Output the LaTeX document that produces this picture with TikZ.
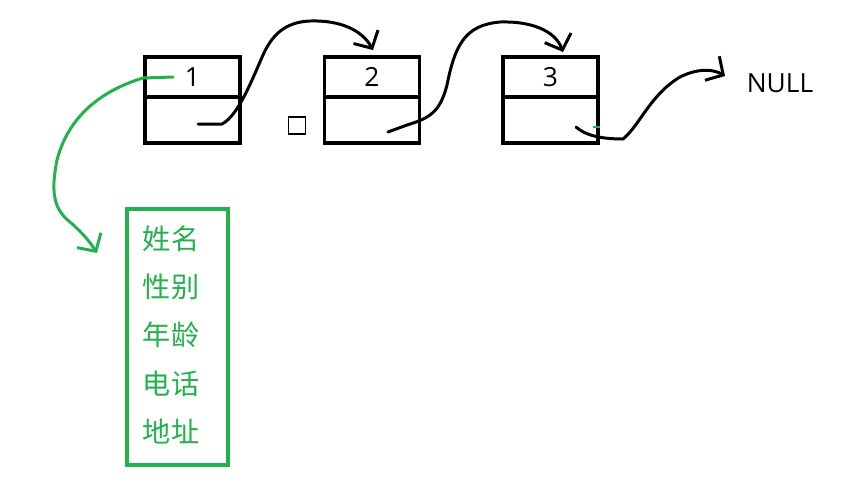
\documentclass[tikz,border=0pt]{standalone}
\usepackage{fontspec}
\setmainfont{Open Sans}
\newfontfamily\cjk{Noto Sans CJK SC}
\usepackage{xcolor}
\usetikzlibrary{arrows.meta}
\definecolor{paintgreen}{RGB}{34,177,76}

\begin{document}
\begin{tikzpicture}[x=0.02cm,y=-0.02cm,
    cell/.style={draw,line width=2.2pt,minimum width=1.9cm,inner sep=0pt,font=\fontsize{15}{18}\selectfont},
    datacell/.style={cell,minimum height=0.8cm},
    ptrcell/.style={cell,minimum height=0.92cm},
    hand/.style={line width=1.7pt,line cap=round,line join=round,-{Straight Barb[length=2.6mm,width=5.6mm]}},
    field/.style={paintgreen,font=\cjk\fontsize{16}{19}\selectfont}]
  \useasboundingbox (0,0) rectangle (841,488);
  % the three list nodes
  \foreach \i/\x in {1/192.5,2/372,3/550.5} {
    \node[datacell] (n\i) at (\x,77) {\i};
    \node[ptrcell] (p\i) at (\x,120) {};
  }
  \node[draw,line width=0.6pt,minimum size=0.34cm,inner sep=0pt] (sq) at (297,125.5) {};
  \node[font=\fontsize{15}{18}\selectfont] (null) at (780,83) {NULL};
  % the record behind node 1
  \node[draw=paintgreen,line width=2.2pt,minimum width=2.02cm,minimum height=5.12cm] (rec) at (177.5,337) {};
  \foreach \t/\y [count=\k] in {姓名/239,性别/287,年龄/335,电话/384,地址/431}
    \node[field] (f\k) at (171,\y) {\t};
  % hand drawn links
  \coordinate (s1) at (198,124);
  \coordinate (t1) at (373,50);
  \coordinate (s2) at (388,132);
  \coordinate (t2) at (563,52);
  \coordinate (s3) at (576,127);
  \coordinate (t3) at (725,76);
  \draw[hand] (s1) -- (222,124) .. controls (238,116) and (252,80) .. (263,55)
    .. controls (272,35) and (285,22) .. (310,21) .. controls (340,20) and (362,30) .. (t1);
  \draw[hand] (s2) -- (407,125) .. controls (430,118) and (440,112) .. (447,85)
    .. controls (455,45) and (465,25) .. (500,22) .. controls (530,21) and (555,30) .. (t2);
  \draw[hand] (s3) .. controls (585,135) and (600,139) .. (623,139)
    .. controls (640,125) and (650,95) .. (680,77) .. controls (700,67) and (715,70) .. (t3);
  \draw[paintgreen,line width=1.6pt] (593,127) -- (600,127);
  \coordinate (g0) at (173,77);
  \coordinate (g1) at (97,253);
  \draw[hand,paintgreen] (g0) -- (143,78) .. controls (110,88) and (70,110) .. (57,160)
    .. controls (50,195) and (55,210) .. (70,222) .. controls (85,235) and (92,245) .. (g1);
\end{tikzpicture}
\end{document}
